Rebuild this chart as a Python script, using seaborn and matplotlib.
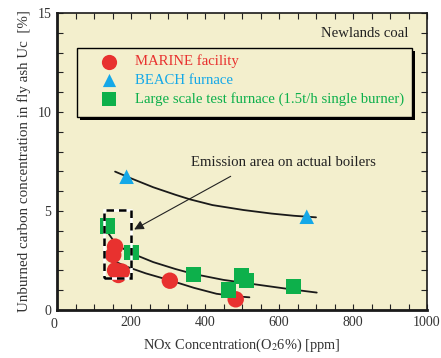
import numpy as np
import pandas as pd
import matplotlib.pyplot as plt
import seaborn as sns
from matplotlib.patches import Rectangle
from matplotlib.ticker import MultipleLocator

# measured points
marine_x = [157, 152, 157, 175, 166, 305, 483]
marine_y = [3.2, 2.78, 2.0, 1.94, 1.77, 1.48, 0.54]
beach_x = [188, 675]
beach_y = [6.73, 4.71]
large_x = [137, 202, 369, 499, 513, 463, 639]
large_y = [4.24, 2.9, 1.8, 1.72, 1.48, 1.01, 1.18]

# trend curves
upper_x = [157, 200, 260, 320, 359, 420, 504, 580, 640, 700]
upper_y = [6.99, 6.65, 6.2, 5.82, 5.59, 5.3, 5.05, 4.87, 4.76, 4.68]
middle_x = [139, 160, 202, 260, 320, 369, 450, 549, 630, 702]
middle_y = [3.87, 3.3, 2.86, 2.42, 2.07, 1.82, 1.52, 1.26, 1.05, 0.88]
lower_x = [143, 165, 188, 240, 305, 370, 431, 480, 520]
lower_y = [2.61, 2.38, 2.19, 1.85, 1.5, 1.12, 0.82, 0.7, 0.64]

df = pd.concat([
    pd.DataFrame({'nox': marine_x, 'uc': marine_y, 'src': 'MARINE facility'}),
    pd.DataFrame({'nox': beach_x, 'uc': beach_y, 'src': 'BEACH furnace'}),
    pd.DataFrame({'nox': large_x, 'uc': large_y,
                  'src': 'Large scale test furnace (1.5t/h single burner)'}),
])

colors = {'MARINE facility': '#E8312F',
          'BEACH furnace': '#14A8E8',
          'Large scale test furnace (1.5t/h single burner)': '#0DB04B'}
markers = {'MARINE facility': 'o',
           'BEACH furnace': '^',
           'Large scale test furnace (1.5t/h single burner)': 's'}
sizes = {'MARINE facility': 140,
         'BEACH furnace': 110,
         'Large scale test furnace (1.5t/h single burner)': 120}

sns.set_style('ticks')
plt.rcParams['font.family'] = ['Liberation Serif', 'DejaVu Serif']
plt.rcParams['mathtext.fontset'] = 'stix'

fig = plt.figure(figsize=(4.41, 3.58), dpi=100)
ax = fig.add_axes([57 / 441, 48 / 358, 370 / 441, 297 / 358])
ax.set_facecolor('#F3EFCD')

for cx, cy in [(upper_x, upper_y), (middle_x, middle_y), (lower_x, lower_y)]:
    ax.plot(cx, cy, color='#1a1a1a', lw=1.3, zorder=2)

# emission area box
ax.add_patch(Rectangle((128, 1.63), 71, 3.42, fill=False, ec='white', lw=1.8, zorder=4))
ax.add_patch(Rectangle((128, 1.63), 71, 3.42, fill=False, ec='black', lw=1.8,
                       ls=(0, (3, 2)), zorder=4))

sns.scatterplot(data=df, x='nox', y='uc', hue='src', style='src', size='src',
                palette=colors, markers=markers, sizes=sizes, linewidth=0,
                ax=ax, zorder=3, legend=False)

ax.annotate('', xy=(202, 4.0), xytext=(476, 6.82),
            arrowprops=dict(arrowstyle='-|>', color='#222222', lw=0.8,
                            mutation_scale=14))
ax.text(612, 7.44, 'Emission area on actual boilers', ha='center', va='center',
        fontsize=10.6, color='#222222')
ax.text(949, 13.94, 'Newlands coal', ha='right', va='center', fontsize=10.6,
        color='#222222')

# legend box with shadow
legend_items = [('MARINE facility', 'o'), ('BEACH furnace', '^'),
                ('Large scale test furnace (1.5t/h single burner)', 's')]
ax.add_patch(Rectangle((62, 9.6), 905, 3.48, fc='black', ec='none', zorder=5))
ax.add_patch(Rectangle((54, 9.75), 905, 3.48, fc='#F3EFCD', ec='black', lw=1.0, zorder=6))
for i, (name, mk) in enumerate(legend_items):
    yy = 12.55 - i * 0.95
    ax.scatter([140], [yy], marker=mk, s=sizes[name] - 20, color=colors[name],
               linewidth=0, zorder=7)
    ax.text(210, yy, name, ha='left', va='center', fontsize=10.6,
            color=colors[name], zorder=7)

ax.set_xlim(0, 1000)
ax.set_ylim(0, 15)
ax.xaxis.set_major_locator(MultipleLocator(200))
ax.xaxis.set_minor_locator(MultipleLocator(50))
ax.yaxis.set_major_locator(MultipleLocator(5))
ax.yaxis.set_minor_locator(MultipleLocator(1))
ax.tick_params(which='both', direction='in', top=True, right=True,
               labelsize=10, colors='#222222', labelcolor='#333333')
ax.tick_params(which='major', length=4, width=0.8, pad=4)
ax.tick_params(which='minor', length=4, width=0.8)
ax.set_xticks([0, 200, 400, 600, 800, 1000])
ax.set_xticklabels(['', '200', '400', '600', '800', '1000'])
ax.text(-7, -0.75, '0', ha='center', va='center', fontsize=10, color='#333333')
for side in ['left', 'bottom']:
    ax.spines[side].set_linewidth(2.0)
for side in ['right', 'top']:
    ax.spines[side].set_linewidth(1.2)
for sp in ax.spines.values():
    sp.set_color('#1a1a1a')

ax.set_xlabel('NOx Concentration(O$_{2}$6%) [ppm]', fontsize=10.4, color='#333333', labelpad=6)
ax.set_ylabel('Unburned carbon concentration in fly ash Uc  [%]', fontsize=10.8,
              color='#333333', labelpad=5)

fig.savefig('out.png', dpi=100, facecolor='white')
